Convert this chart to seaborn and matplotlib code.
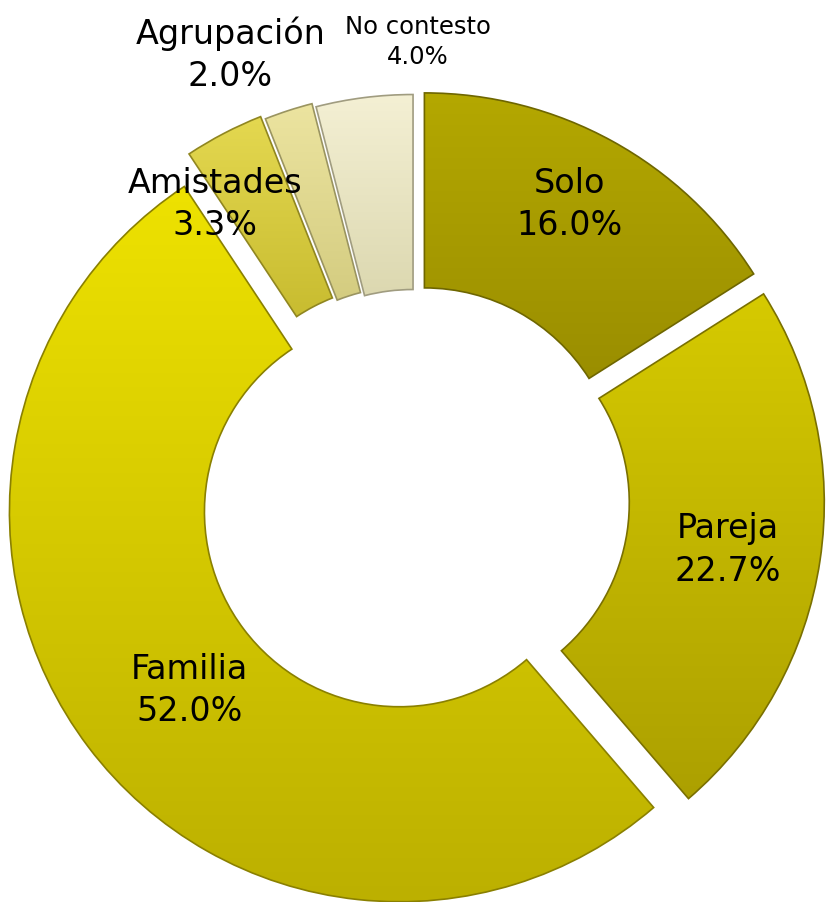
import matplotlib
matplotlib.use("Agg")
import matplotlib.pyplot as plt
from matplotlib.colors import LinearSegmentedColormap
import seaborn as sns
import numpy as np

# Datos
categorias = ["Solo", "Pareja", "Familia", "Amistades", "Agrupación", "No contesto"]
porcentajes = [16.0, 22.7, 52.0, 3.3, 2.0, 4.0]

# Colores (arriba, abajo) para el degradado de cada sector
colores_top = ["#b4a800", "#d6ca00", "#eee200", "#e4d850", "#ece4a0", "#f4f0d4"]
colores_bot = ["#9a8e00", "#aca000", "#bcb000", "#c8bc30", "#d4cc80", "#dcd8b0"]
bordes = ["#6e6600", "#7a7000", "#8a8000", "#908620", "#9a9460", "#a09c80"]
explode = [0.05, 0.05, 0.05, 0.06, 0.05, 0.04]

sns.set_style("white")
plt.rcParams['font.family'] = ['DejaVu Sans']

fig = plt.figure(figsize=(8.27, 9.03), dpi=100)
ax = fig.add_axes([0, 0, 1, 1])

# centro en píxel (415, 501), radio 390 px
px = 390.0
cx, cy = 415, 501

wedges, _ = ax.pie(porcentajes, startangle=90, counterclock=False, explode=explode,
                   radius=1.0, wedgeprops=dict(width=0.5, linewidth=1.2))

for i, w in enumerate(wedges):
    w.set_facecolor("none")
    w.set_edgecolor(bordes[i])
    bb = w.get_path().get_extents(w.get_transform() + ax.transData.inverted())
    cmap = LinearSegmentedColormap.from_list("g%d" % i, [colores_top[i], colores_bot[i]])
    grad = np.linspace(0, 1, 256).reshape(-1, 1)
    im = ax.imshow(grad, cmap=cmap, extent=[bb.x0, bb.x1, bb.y0, bb.y1],
                   origin="upper", aspect="auto", zorder=1)
    im.set_clip_path(w)
    w.set_zorder(2)

ax.set_xlim(-cx / px, (827 - cx) / px)
ax.set_ylim(-(903 - cy) / px, cy / px)
ax.set_aspect("equal")
ax.axis("off")

# posiciones de etiquetas (radio, ángulo horario desde arriba)
pos_etq = [(0.857, 27.6), (0.812, 98.9), (0.755, 230.0), (0.916, 326.0), (1.238, 337.5), (1.177, 0.4)]
tam_etq = [24, 24, 24, 24, 24, 17.5]

for i, (cat, val) in enumerate(zip(categorias, porcentajes)):
    r, ang = pos_etq[i]
    a = np.deg2rad(ang)
    x, y = r * np.sin(a), r * np.cos(a)
    ax.text(x, y, f"{cat}\n{val:.1f}%", ha="center", va="center",
            fontsize=tam_etq[i], color="black", linespacing=1.35, zorder=5)

fig.savefig("out.png", dpi=100)
